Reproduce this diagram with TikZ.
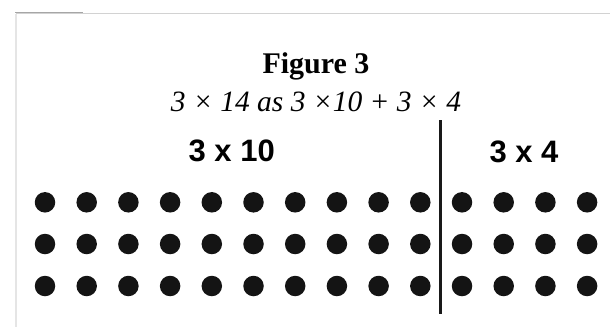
\documentclass[tikz,border=0pt]{standalone}
\usepackage{fontspec}
\setmainfont{Liberation Serif}
\setsansfont{Liberation Sans}
\tikzset{
  figtitle/.style={
    anchor=base, inner sep=0pt,
    font=\fontsize{30}{36}\selectfont\bfseries
  },
  figcaption/.style={
    anchor=base, inner sep=0pt,
    font=\fontsize{29.5}{36}\selectfont\itshape
  },
  grouplabel/.style={
    anchor=base, inner sep=0pt,
    font=\fontsize{31}{36}\selectfont\sffamily\bfseries
  },
  countdot/.style={
    circle, fill=black!92, inner sep=0pt, minimum size=20.5pt
  },
  splitline/.style={line width=2.6pt, color=black!90},
  framerule/.style={line width=1.6pt, color=gray!35},
}

\begin{document}
\begin{tikzpicture}[x=1pt, y=-1pt]
  \useasboundingbox (0,0) rectangle (610,327);

  % ── page frame ──
  \draw[framerule] (16,13.5) -- (610,13.5);
  \draw[framerule, color=gray!20] (16,13.5) -- (16,327);
  \draw[framerule, color=gray!70] (15,12.5) -- (83,12.5);

  % ── heading ──
  \node[figtitle] (title) at (316,73) {Figure 3};
  \node[figcaption] (caption) at (316,111)
    {3 × 14 as 3 ×10 + 3 × 4};

  % ── group labels ──
  \node[grouplabel] (tenlabel) at (231.7,161.5) {3 x 10};
  \node[grouplabel] (fourlabel) at (524,162.5) {3 x 4};

  % ── 3 rows of 14 dots ──
  \foreach \r/\y in {1/202.3, 2/244, 3/286} {
    \foreach \c in {1,...,14} {
      \node[countdot] (dot-\r-\c) at ({45+41.7*(\c-1)},\y) {};
    }
  }

  % ── divider between 10 and 4 ──
  \coordinate (splittop) at (440.6,120);
  \coordinate (splitbot) at (440.6,314);
  \draw[splitline] (splittop) -- (splitbot);
\end{tikzpicture}
\end{document}
